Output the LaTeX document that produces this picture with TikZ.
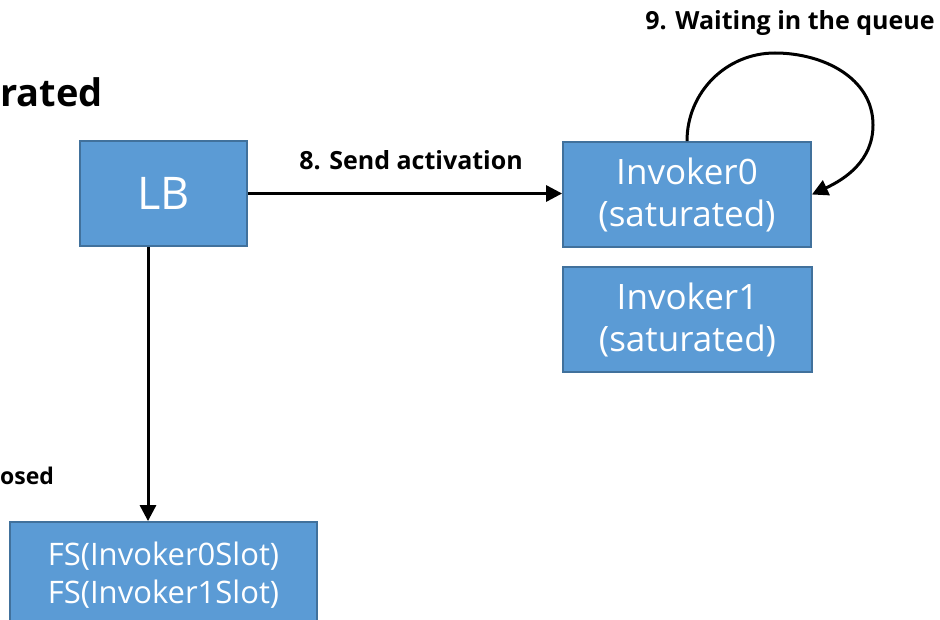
\documentclass[tikz,border=0pt]{standalone}
\usepackage{fontspec}
\setmainfont{Open Sans}
\usetikzlibrary{arrows.meta}
\definecolor{boxfill}{HTML}{5B9BD5}
\definecolor{boxedge}{HTML}{41719C}
\begin{document}
\begin{tikzpicture}[x=1pt,y=-1pt,
  box/.style={draw=boxedge, fill=boxfill, line width=1.8pt, text=white,
    inner sep=0pt, align=center},
  arr/.style={line width=3pt, -{Triangle[length=16pt,width=16pt]}},
  lbl/.style={font=\bfseries\fontsize{25}{29}\selectfont, inner sep=0pt}]
\useasboundingbox (0,0) rectangle (940,620);
\clip (0,0) rectangle (940,620);

% boxes
\node[box, minimum width=167pt, minimum height=105pt,
  font=\fontsize{45}{50}\selectfont] (lb) at (163.5,193.5) {LB};
\node[box, minimum width=248pt, minimum height=105pt,
  font=\fontsize{35}{42}\selectfont] (inv0) at (687,194.5) {Invoker0\\(saturated)};
\node[box, minimum width=249pt, minimum height=105pt,
  font=\fontsize{35}{42}\selectfont] (inv1) at (687.5,319.5) {Invoker1\\(saturated)};
\node[box, minimum width=307pt, minimum height=106pt,
  font=\fontsize{31}{38}\selectfont] (fs) at (163.5,575) {FS(Invoker0Slot)\\FS(Invoker1Slot)};

% partial titles at the left edge
\node[font=\bfseries\fontsize{38}{42}\selectfont, inner sep=0pt, anchor=base west] (ttl) at (0,107) {rated};
\node[font=\bfseries\fontsize{23}{27}\selectfont, inner sep=0pt, anchor=base west] (cl) at (0,484) {osed};

% connectors
\draw[arr] (lb.east) -- (lb.east -| inv0.west);
\node[lbl, anchor=base] (l8) at (411,170) {8. Send activation};
\draw[arr] ([xshift=-15.5pt]lb.south) -- ([xshift=-15.5pt]lb.south |- fs.north);
\draw[arr] (inv0.north) to[out=90,in=180] (775,53) coordinate (top)
  to[out=0,in=90] (873,125) coordinate (rgt)
  to[out=-90,in=25] (inv0.east);
\node[lbl, anchor=base] (l9) at (790,30) {9. Waiting in the queue};
\end{tikzpicture}
\end{document}
